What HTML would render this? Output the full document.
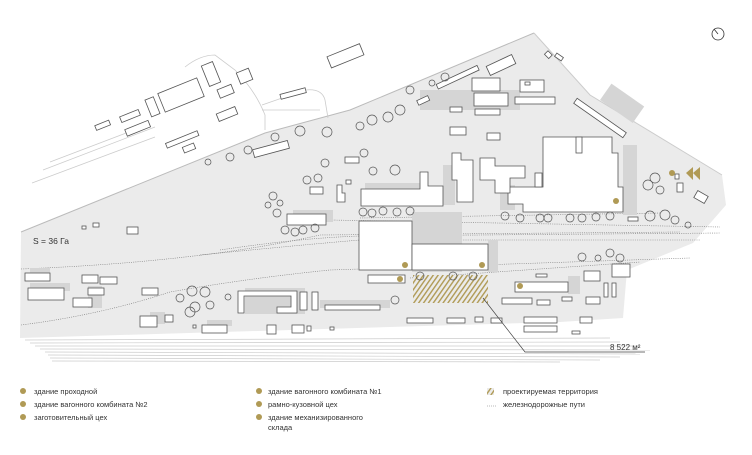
<!DOCTYPE html>
<html><head><meta charset="utf-8"><style>
body{margin:0;background:#fff;width:752px;height:450px;overflow:hidden;font-family:"Liberation Sans",sans-serif}
</style></head><body>
<svg width="752" height="450" viewBox="0 0 752 450" xmlns="http://www.w3.org/2000/svg" font-family="Liberation Sans, sans-serif">
<defs>
<pattern id="h" width="4" height="4" patternUnits="userSpaceOnUse" patternTransform="rotate(35)">
<rect width="4" height="4" fill="#ebebea"/><rect width="1.4" height="4" fill="#b09a55"/></pattern>
</defs>
<polygon points="21,232 265,133 350,110 534,33 590,95 722,175 726,205 693,243 627,270 623,318 560,322 20,338" fill="#ebebeb"/>
<polyline points="21,232 265,133 350,110 534,33" fill="none" stroke="#bbb" stroke-width="1"/>
<polyline points="534,33 590,95 722,175" fill="none" stroke="#ccc" stroke-width="1"/>
<g stroke="#ccc" fill="none" stroke-width="0.8">
<line x1="32" y1="183" x2="155" y2="137"/><line x1="43" y1="170" x2="155" y2="127"/><line x1="50" y1="162" x2="150" y2="124"/>
<path d="M185,67 Q200,55 215,55 L235,70 Q255,90 265,115 L265,130"/>
<path d="M262,105 L305,90 Q322,88 325,100 L328,118"/><path d="M262,110 L320,110"/>
</g>
<g stroke="#ccc" stroke-width="0.7">
<line x1="25" y1="340" x2="610" y2="338"/><line x1="30" y1="343" x2="620" y2="342"/><line x1="35" y1="346" x2="640" y2="346"/>
<line x1="40" y1="349" x2="650" y2="350"/><line x1="45" y1="352" x2="640" y2="354"/><line x1="48" y1="355" x2="620" y2="357"/>
<line x1="50" y1="358" x2="600" y2="360"/><line x1="52" y1="361" x2="560" y2="362"/>
</g>
<g stroke="#777" stroke-width="0.6" fill="none" stroke-dasharray="1,1.2">
<path d="M21,269 Q200,262 320,235 L680,232"/>
<path d="M200,255 Q300,245 360,240 L700,240"/>
<path d="M220,250 Q300,238 360,236 L720,233"/>
<path d="M330,220 L720,227"/>
<path d="M21,325 Q100,315 170,292 Q250,278 330,270 L690,258"/>
<path d="M410,278 L640,262"/>
<path d="M360,218 L660,213"/>
</g>
<g fill="#d5d5d5">
<rect x="412" y="212" width="50" height="60"/><rect x="488" y="240" width="10" height="32"/>
<rect x="443" y="165" width="12" height="40"/><rect x="623" y="145" width="14" height="70"/>
<rect x="245" y="288" width="60" height="26"/><rect x="320" y="300" width="70" height="8"/>
<rect x="568" y="276" width="12" height="18"/><rect x="88" y="286" width="14" height="22"/>
<rect x="30" y="268" width="20" height="8"/><rect x="30" y="283" width="40" height="8"/>
<rect x="600" y="100" width="20" height="40" transform="rotate(-55 600 100)"/>
<rect x="420" y="90" width="100" height="20"/>
<rect x="293" y="210" width="40" height="12"/><rect x="365" y="183" width="60" height="8"/><rect x="500" y="185" width="15" height="25"/>
<rect x="150" y="312" width="15" height="12"/><rect x="207" y="320" width="25" height="6"/>
</g>
<g fill="#fff" stroke="#555" stroke-width="0.8">
<rect x="359" y="221" width="53" height="49"/>
<rect x="412" y="244" width="76" height="26"/>
<polygon points="361,189 420,189 420,172 428,172 428,186 443,186 443,206 361,206"/>
<polygon points="452,153 461,153 461,160 473,160 473,202 457,202 457,180 452,180"/>
<polygon points="543,137 612,137 612,153 618,153 618,187 623,187 623,212 523,212 523,204 508,204 508,187 543,187"/>
<polygon points="480,158 495,158 495,166 525,166 525,178 510,178 510,193 495,193 495,180 480,180"/>
<rect x="368" y="275" width="37" height="8"/>
<rect x="515" y="282" width="53" height="10"/>
<rect x="502" y="298" width="30" height="6"/><rect x="537" y="300" width="13" height="5"/><rect x="562" y="297" width="10" height="4"/>
<rect x="586" y="297" width="14" height="7"/><rect x="604" y="283" width="4" height="14"/><rect x="612" y="283" width="4" height="14"/>
<rect x="584" y="271" width="16" height="10"/><rect x="612" y="264" width="18" height="13"/>
<rect x="407" y="318" width="26" height="5"/><rect x="447" y="318" width="18" height="5"/><rect x="475" y="317" width="8" height="5"/>
<rect x="491" y="318" width="11" height="5"/><rect x="524" y="317" width="33" height="6"/><rect x="524" y="326" width="33" height="6"/>
<rect x="580" y="317" width="12" height="6"/><rect x="572" y="331" width="8" height="3"/>
<rect x="535" y="173" width="7" height="14"/><rect x="576" y="137" width="6" height="16"/>
<rect x="675" y="174" width="4" height="5"/><rect x="677" y="183" width="6" height="9"/>
<rect x="695" y="193" width="12" height="8" transform="rotate(30 701 197)"/>
<rect x="628" y="217" width="10" height="4"/>
<rect x="536" y="274" width="11" height="3"/>
<rect x="25" y="273" width="25" height="8"/><rect x="28" y="288" width="36" height="12"/>
<rect x="82" y="275" width="16" height="8"/><rect x="100" y="277" width="17" height="7"/><rect x="88" y="288" width="16" height="7"/>
<rect x="73" y="298" width="19" height="9"/><rect x="142" y="288" width="16" height="7"/><rect x="140" y="316" width="17" height="11"/>
<rect x="165" y="315" width="8" height="7"/><rect x="202" y="325" width="25" height="8"/>
<polygon points="238,291 297,291 297,313 277,313 277,307 291,307 291,296 244,296 244,313 238,313"/>
<rect x="300" y="292" width="7" height="18"/><rect x="312" y="292" width="6" height="18"/><rect x="325" y="305" width="55" height="5"/>
<rect x="267" y="325" width="9" height="9"/><rect x="292" y="325" width="12" height="8"/><rect x="307" y="326" width="4" height="5"/><rect x="330" y="327" width="4" height="3"/>
<rect x="193" y="325" width="3" height="3"/>
<rect x="127" y="227" width="11" height="7"/><rect x="287" y="214" width="39" height="11"/><rect x="310" y="187" width="13" height="7"/>
<polygon points="337,185 342,185 342,193 345,193 345,202 337,202"/>
<rect x="345" y="157" width="14" height="6"/><rect x="346" y="180" width="5" height="4"/>
<rect x="253" y="145" width="36" height="8" transform="rotate(-15 271 149)"/>
<rect x="82" y="226" width="4" height="3"/><rect x="93" y="223" width="6" height="4"/>
<rect x="474" y="93" width="34" height="13"/><rect x="472" y="78" width="28" height="13"/><rect x="475" y="109" width="25" height="6"/>
<rect x="450" y="127" width="16" height="8"/><rect x="487" y="133" width="13" height="7"/><rect x="450" y="107" width="12" height="5"/>
<rect x="520" y="80" width="24" height="12"/><rect x="515" y="97" width="40" height="7"/>
<rect x="570" y="115" width="60" height="6" transform="rotate(35 600 118)"/>
<rect x="555" y="55" width="8" height="4" transform="rotate(35 559 57)"/><rect x="545" y="52" width="6" height="5" transform="rotate(45 548 55)"/>
<rect x="487" y="60" width="28" height="10" transform="rotate(-25 501 65)"/><rect x="435" y="75" width="45" height="5" transform="rotate(-25 457 77)"/>
<rect x="417" y="98" width="12" height="5" transform="rotate(-25 423 100)"/>
<rect x="525" y="82" width="5" height="3"/>
<rect x="328" y="50" width="35" height="12" transform="rotate(-22 345 56)"/>
<rect x="160" y="85" width="42" height="20" transform="rotate(-22 181 95)"/>
<rect x="148" y="98" width="9" height="18" transform="rotate(-22 152 107)"/>
<rect x="205" y="63" width="12" height="22" transform="rotate(-22 211 74)"/>
<rect x="218" y="87" width="15" height="9" transform="rotate(-22 225 91)"/>
<rect x="238" y="70" width="13" height="12" transform="rotate(-22 245 76)"/>
<rect x="217" y="110" width="20" height="8" transform="rotate(-22 227 114)"/>
<rect x="280" y="91" width="26" height="5" transform="rotate(-15 293 93)"/>
<rect x="120" y="113" width="20" height="6" transform="rotate(-22 130 116)"/>
<rect x="125" y="125" width="25" height="7" transform="rotate(-22 137 128)"/>
<rect x="95" y="123" width="15" height="5" transform="rotate(-22 102 125)"/>
<rect x="165" y="137" width="34" height="5" transform="rotate(-22 182 139)"/>
<rect x="183" y="145" width="12" height="6" transform="rotate(-22 189 148)"/>
</g>
<rect x="413" y="275" width="75" height="28" fill="url(#h)"/>
<g fill="none" stroke="#555" stroke-width="0.7">
<circle cx="248" cy="150" r="4"/><circle cx="275" cy="137" r="4"/><circle cx="300" cy="131" r="5"/><circle cx="327" cy="132" r="5"/>
<circle cx="360" cy="126" r="4"/><circle cx="372" cy="120" r="5"/><circle cx="388" cy="117" r="5"/><circle cx="400" cy="110" r="5"/>
<circle cx="432" cy="83" r="3"/><circle cx="445" cy="77" r="4"/><circle cx="410" cy="90" r="4"/>
<circle cx="208" cy="162" r="3"/><circle cx="230" cy="157" r="4"/>
<circle cx="325" cy="163" r="4"/><circle cx="307" cy="180" r="4"/><circle cx="318" cy="178" r="4"/>
<circle cx="277" cy="213" r="4"/><circle cx="285" cy="230" r="4"/><circle cx="295" cy="232" r="4"/><circle cx="303" cy="230" r="4"/><circle cx="315" cy="228" r="4"/>
<circle cx="364" cy="153" r="4"/><circle cx="373" cy="171" r="4"/><circle cx="395" cy="170" r="5"/>
<circle cx="363" cy="212" r="4"/><circle cx="372" cy="213" r="4"/><circle cx="383" cy="211" r="4"/><circle cx="397" cy="212" r="4"/><circle cx="410" cy="211" r="4"/>
<circle cx="505" cy="216" r="4"/><circle cx="520" cy="218" r="4"/><circle cx="540" cy="218" r="4"/><circle cx="548" cy="218" r="4"/>
<circle cx="570" cy="218" r="4"/><circle cx="582" cy="218" r="4"/><circle cx="596" cy="217" r="4"/><circle cx="610" cy="216" r="4"/>
<circle cx="650" cy="216" r="5"/><circle cx="665" cy="215" r="5"/><circle cx="675" cy="220" r="4"/><circle cx="688" cy="225" r="3"/>
<circle cx="648" cy="185" r="5"/><circle cx="655" cy="178" r="5"/><circle cx="660" cy="190" r="4"/>
<circle cx="582" cy="257" r="4"/><circle cx="598" cy="258" r="3"/><circle cx="620" cy="258" r="4"/><circle cx="610" cy="253" r="4"/>
<circle cx="420" cy="276" r="4"/><circle cx="453" cy="276" r="4"/><circle cx="473" cy="276" r="4"/>
<circle cx="395" cy="300" r="4"/><circle cx="180" cy="298" r="4"/><circle cx="192" cy="291" r="5"/><circle cx="205" cy="292" r="5"/><circle cx="228" cy="297" r="3"/><circle cx="195" cy="307" r="5"/><circle cx="210" cy="305" r="4"/><circle cx="190" cy="312" r="5"/>
<circle cx="273" cy="196" r="4"/><circle cx="280" cy="203" r="3"/><circle cx="268" cy="205" r="3"/>
</g>
<polyline points="483,298 525,352 645,352" fill="none" stroke="#444" stroke-width="0.7"/>
<text x="610" y="350" font-size="8" fill="#333">8 522 м²</text>
<text x="33" y="244" font-size="8.5" fill="#333">S = 36 Га</text>
<g fill="#b09a55"><circle cx="672" cy="173" r="3"/><circle cx="616" cy="201" r="3"/><circle cx="520" cy="286" r="3"/><circle cx="482" cy="265" r="3"/><circle cx="405" cy="265" r="3"/><circle cx="400" cy="279" r="3"/>
<polygon points="686,173 693,167 693,180"/><polygon points="693,173 700,167 700,180"/></g>
<circle cx="718" cy="34" r="6" fill="none" stroke="#333" stroke-width="0.8"/><line x1="718" y1="34" x2="714" y2="29" stroke="#333" stroke-width="0.8"/>
<g font-size="7.5" fill="#333">
<g fill="#b09a55"><circle cx="23" cy="391" r="3"/><circle cx="23" cy="404" r="3"/><circle cx="23" cy="417" r="3"/><circle cx="259" cy="391" r="3"/><circle cx="259" cy="404" r="3"/><circle cx="259" cy="417" r="3"/></g>
<text x="34" y="394">здание проходной</text>
<text x="34" y="407">здание вагонного комбината №2</text>
<text x="34" y="420">заготовительный цех</text>
<text x="268" y="394">здание вагонного комбината №1</text>
<text x="268" y="407">рамно-кузовной цех</text>
<text x="268" y="420">здание механизированного</text>
<text x="268" y="430">склада</text>
<rect x="487" y="388" width="7" height="7" fill="url(#h)"/>
<text x="503" y="394">проектируемая территория</text>
<line x1="487" y1="406" x2="496" y2="406" stroke="#777" stroke-width="0.6" stroke-dasharray="1,1"/>
<text x="503" y="407">железнодорожные пути</text>
</g>
</svg>
</body></html>
